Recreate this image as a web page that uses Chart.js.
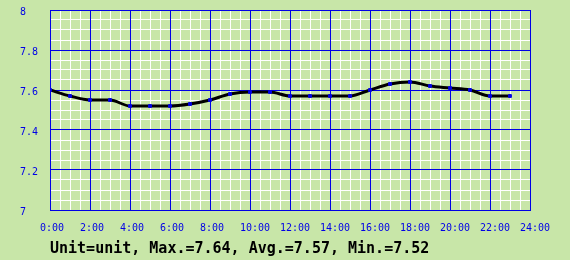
<!DOCTYPE html>
<html>
<head>
<meta charset="utf-8">
<script src="https://cdn.jsdelivr.net/npm/chart.js@4/dist/chart.umd.min.js"></script>
<style>
  html, body { margin: 0; padding: 0; background: #c8e6a8; }
  #wrap { position: relative; width: 570px; height: 260px; }
  #c { display: block; }
  #summary {
    position: absolute; left: 50px; top: 240px;
    font: bold 15px/17px "DejaVu Sans Mono", monospace;
    color: #000; white-space: pre;
  }
</style>
</head>
<body>
<div id="wrap">
  <canvas id="c" width="570" height="260"></canvas>
  <div id="summary">Unit=unit, Max.=7.64, Avg.=7.57, Min.=7.52</div>
</div>
<script>
// hourly readings, 0:00 .. 23:00
const hours  = [0, 1, 2, 3, 4, 5, 6, 7, 8, 9, 10, 11, 12, 13, 14, 15, 16, 17, 18, 19, 20, 21, 22, 23];
const values = [7.60, 7.57, 7.55, 7.55, 7.52, 7.52, 7.52, 7.53, 7.55, 7.58, 7.59, 7.59,
                7.57, 7.57, 7.57, 7.57, 7.60, 7.63, 7.64, 7.62, 7.61, 7.60, 7.57, 7.57];
const yTicks = [7, 7.2, 7.4, 7.6, 7.8, 8];
const xTicks = [0, 2, 4, 6, 8, 10, 12, 14, 16, 18, 20, 22, 24];

const BLUE = '#0000e6';
const mono = { family: '"DejaVu Sans Mono", monospace', size: 10 };

function isMajorY(v) { return yTicks.some(t => Math.abs(t - v) < 1e-6); }
function isMajorX(v) { return xTicks.some(t => Math.abs(t - v) < 1e-6); }

// same pixel snapping Chart.js uses for 1px grid lines
function snap(p) { return Math.round(p - 0.5) + 0.5; }

// blue major grid drawn over the white minor grid, under the line
const majorGrid = {
  id: 'majorGrid',
  beforeDatasetsDraw(chart) {
    const { ctx, chartArea: a, scales: { x, y } } = chart;
    ctx.save();
    ctx.strokeStyle = BLUE;
    ctx.lineWidth = 1;
    ctx.beginPath();
    xTicks.forEach(t => {
      const px = snap(x.getPixelForValue(t));
      ctx.moveTo(px, a.top); ctx.lineTo(px, a.bottom + 1);
    });
    yTicks.forEach(t => {
      const py = snap(y.getPixelForValue(t));
      ctx.moveTo(a.left, py); ctx.lineTo(a.right + 1, py);
    });
    ctx.stroke();
    ctx.restore();
  }
};

new Chart(document.getElementById('c'), {
  type: 'line',
  data: {
    datasets: [{
      data: hours.map((h, i) => ({ x: h, y: values[i] })),
      borderColor: '#000',
      borderWidth: 3,
      tension: 0.4,
      cubicInterpolationMode: 'monotone',
      pointStyle: 'rect',
      pointRadius: 2,
      pointBackgroundColor: BLUE,
      pointBorderColor: BLUE,
      pointBorderWidth: 1,
      fill: false
    }]
  },
  options: {
    responsive: false,
    animation: false,
    devicePixelRatio: 1,
    layout: { padding: { top: 10, right: 40, left: 20, bottom: 0 } },
    plugins: { legend: { display: false }, tooltip: { enabled: false } },
    scales: {
      x: {
        type: 'linear', min: 0, max: 24,
        afterFit: s => { s.height = 50; s.paddingLeft = 0; s.paddingRight = 0; },
        border: { color: BLUE, width: 1 },
        grid: {
          drawTicks: false, lineWidth: 1,
          color: c => isMajorX(c.tick.value) ? 'rgba(0,0,0,0)' : '#ffffff'
        },
        ticks: {
          stepSize: 0.5, autoSkip: false, maxRotation: 0, padding: 12,
          align: 'start', labelOffset: -10,
          color: BLUE, font: mono,
          callback: v => isMajorX(v) ? v + ':00' : ''
        }
      },
      y: {
        min: 7, max: 8,
        afterFit: s => { s.width = 30; s.paddingTop = 0; s.paddingBottom = 0; },
        border: { color: BLUE, width: 1 },
        grid: {
          drawTicks: false, lineWidth: 1,
          color: c => isMajorY(c.tick.value) ? 'rgba(0,0,0,0)' : '#ffffff'
        },
        ticks: {
          stepSize: 0.05, autoSkip: false, crossAlign: 'far', padding: 0,
          labelOffset: 2,
          color: BLUE, font: mono,
          callback: v => isMajorY(v) ? String(Math.round(v * 10) / 10) : ''
        }
      }
    }
  },
  plugins: [majorGrid]
});
</script>
</body>
</html>
